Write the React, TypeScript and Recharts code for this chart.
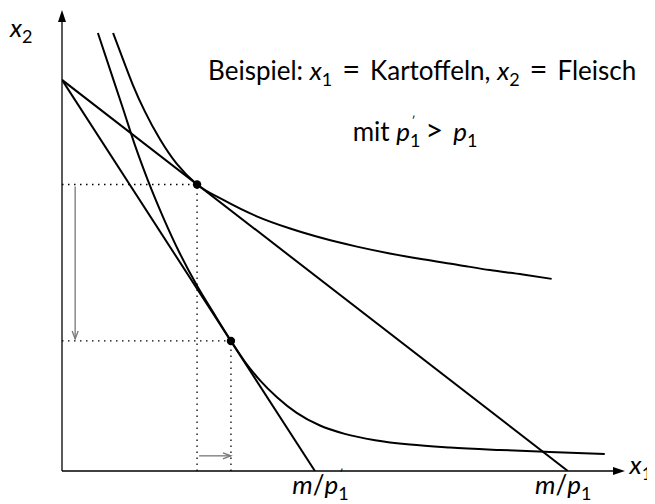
import React from "react";
import { ComposedChart, Line, XAxis, YAxis, ReferenceLine, ReferenceDot } from "recharts";

// Budgetgeraden (Achsenabschnitte m/p2 = 8, m/p1 = 10, m/p1' = 5)
const budgetOld = [
    { x: 0, y: 8 },
    { x: 10, y: 0 },
];
const budgetNew = [
    { x: 0, y: 8 },
    { x: 5, y: 0 },
];

// Indifferenzkurven, Punkte
const curveHigh = [
    { x: 1.01, y: 8.96 },
    { x: 1.21, y: 8.41 },
    { x: 1.4, y: 7.9 },
    { x: 1.64, y: 7.35 },
    { x: 1.94, y: 6.78 },
    { x: 2.27, y: 6.28 },
    { x: 2.67, y: 5.86 },
    { x: 3.18, y: 5.55 },
    { x: 3.85, y: 5.21 },
    { x: 4.51, y: 4.96 },
    { x: 5.16, y: 4.76 },
    { x: 5.83, y: 4.59 },
    { x: 6.48, y: 4.45 },
    { x: 7.13, y: 4.33 },
    { x: 7.81, y: 4.22 },
    { x: 8.46, y: 4.11 },
    { x: 9.11, y: 4.02 },
    { x: 9.68, y: 3.93 },
];
const curveLow = [
    { x: 0.71, y: 8.96 },
    { x: 0.95, y: 8.21 },
    { x: 1.21, y: 7.4 },
    { x: 1.44, y: 6.67 },
    { x: 1.7, y: 5.94 },
    { x: 2.0, y: 5.19 },
    { x: 2.33, y: 4.45 },
    { x: 2.67, y: 3.79 },
    { x: 2.98, y: 3.26 },
    { x: 3.34, y: 2.66 },
    { x: 3.62, y: 2.23 },
    { x: 3.91, y: 1.86 },
    { x: 4.25, y: 1.51 },
    { x: 4.64, y: 1.19 },
    { x: 5.1, y: 0.93 },
    { x: 5.59, y: 0.76 },
    { x: 6.19, y: 0.63 },
    { x: 6.88, y: 0.54 },
    { x: 7.67, y: 0.48 },
    { x: 8.66, y: 0.43 },
    { x: 9.64, y: 0.39 },
    { x: 10.73, y: 0.35 },
];

// Optimalpunkte vor / nach der Preiserhöhung
const optima = [
    { x: 2.67, y: 5.86 },
    { x: 3.34, y: 2.66 },
];

const X_MAX = 11.13;
const Y_MAX = 9.43;
const FONT = "Lato, 'Open Sans', sans-serif";
const FS = 26;
const SUB = 18;

const ArrowRight = ({ cx, cy }: any) => (
    <polygon points={`${cx},${cy} ${cx - 12},${cy - 4} ${cx - 12},${cy + 4}`} fill="#000" />
);
const ArrowUp = ({ cx, cy }: any) => (
    <polygon points={`${cx},${cy} ${cx - 4},${cy + 12} ${cx + 4},${cy + 12}`} fill="#000" />
);
const OpenDown = ({ cx, cy }: any) => (
    <polyline points={`${cx - 3},${cy - 8} ${cx},${cy} ${cx + 3},${cy - 8}`} fill="none" stroke="#777" strokeWidth={1.3} />
);
const OpenRight = ({ cx, cy }: any) => (
    <polyline points={`${cx - 8},${cy - 3} ${cx},${cy} ${cx - 8},${cy + 3}`} fill="none" stroke="#777" strokeWidth={1.3} />
);
const Dot = ({ cx, cy }: any) => <circle cx={cx} cy={cy} r={4.2} fill="#000" />;

const txt = (content: React.ReactNode, anchor: string = "start") => ({ cx, cy }: any) => (
    <text x={cx} y={cy} textAnchor={anchor} fontFamily={FONT} fontSize={FS} fill="#000">
        {content}
    </text>
);

const it = (s: string) => <tspan fontStyle="italic">{s}</tspan>;
const sub = (s: string) => <tspan fontSize={SUB} dy={6}>{s}</tspan>;
// Relationszeichen etwas größer, wie im Formelsatz
const rel = (s: string, dy = 0) => (
    <>
        <tspan dy={dy}>{"\u2009 "}</tspan>
        <tspan fontSize={31}>{s}</tspan>
        <tspan>{"\u2009 "}</tspan>
    </>
);
// p mit Strich über dem Index
const primeSub = () => (
    <>
        <tspan fontSize={SUB} dy={6}>1</tspan>
        <tspan fontSize={12} dx={-9} dy={-22}>′</tspan>
    </>
);

export default function App() {
    const dotted = { stroke: "#000", strokeWidth: 1.3, strokeDasharray: "1.5 4.5" };
    const line = { type: "linear" as const, stroke: "#000", strokeWidth: 2, dot: false, isAnimationActive: false };
    return (
        <ComposedChart width={647} height={496} margin={{ top: 2, right: 30, bottom: 33, left: 54 }}>
            <XAxis type="number" dataKey="x" domain={[0, X_MAX]} hide height={0} allowDataOverflow />
            <YAxis type="number" dataKey="y" domain={[0, Y_MAX]} hide width={0} allowDataOverflow />

            <ReferenceLine segment={[{ x: 0, y: 0 }, { x: X_MAX - 0.1, y: 0 }]} stroke="#000" strokeWidth={1.3} ifOverflow="visible" />
            <ReferenceLine segment={[{ x: 0, y: 0 }, { x: 0, y: Y_MAX - 0.1 }]} stroke="#000" strokeWidth={1.3} ifOverflow="visible" />
            <ReferenceDot x={X_MAX} y={0} shape={ArrowRight} ifOverflow="visible" />
            <ReferenceDot x={0} y={Y_MAX} shape={ArrowUp} ifOverflow="visible" />

            <ReferenceLine segment={[{ x: 0, y: optima[0].y }, { x: optima[0].x, y: optima[0].y }]} {...dotted} />
            <ReferenceLine segment={[{ x: optima[0].x, y: 0 }, { x: optima[0].x, y: optima[0].y }]} {...dotted} />
            <ReferenceLine segment={[{ x: 0, y: optima[1].y }, { x: optima[1].x, y: optima[1].y }]} {...dotted} />
            <ReferenceLine segment={[{ x: optima[1].x, y: 0 }, { x: optima[1].x, y: optima[1].y }]} {...dotted} />

            <ReferenceLine segment={[{ x: 0.26, y: optima[0].y - 0.04 }, { x: 0.26, y: optima[1].y + 0.04 }]} stroke="#777" strokeWidth={1.3} />
            <ReferenceDot x={0.26} y={optima[1].y + 0.04} shape={OpenDown} />
            <ReferenceLine segment={[{ x: optima[0].x + 0.04, y: 0.31 }, { x: optima[1].x, y: 0.31 }]} stroke="#777" strokeWidth={1.3} />
            <ReferenceDot x={optima[1].x} y={0.31} shape={OpenRight} />

            <Line data={budgetOld} dataKey="y" {...line} />
            <Line data={budgetNew} dataKey="y" {...line} />
            <Line data={curveHigh} dataKey="y" {...line} type="monotone" />
            <Line data={curveLow} dataKey="y" {...line} type="monotone" />

            {optima.map((p, i) => (
                <ReferenceDot key={i} x={p.x} y={p.y} shape={Dot} />
            ))}

            <ReferenceDot x={7.12} y={8.0} ifOverflow="visible"
                shape={txt(<>Beispiel: {it("x")}{sub("1")}{rel("=", -6)}Kartoffeln, {it("x")}{sub("2")}{rel("=", -6)}Fleisch</>, "middle")} />
            <ReferenceDot x={6.98} y={6.75} ifOverflow="visible"
                shape={txt(<>mit {it("p")}{primeSub()}{rel(">", 16)}{it("p")}{sub("1")}</>, "middle")} />
            <ReferenceDot x={-1.03} y={8.88} ifOverflow="visible"
                shape={txt(<>{it("x")}{sub("2")}</>)} />
            <ReferenceDot x={11.22} y={-0.06} ifOverflow="visible"
                shape={txt(<>{it("x")}{sub("1")}</>)} />
            <ReferenceDot x={4.55} y={-0.47} ifOverflow="visible"
                shape={txt(<>{it("m")}/{it("p")}{primeSub()}</>)} />
            <ReferenceDot x={9.35} y={-0.47} ifOverflow="visible"
                shape={txt(<>{it("m")}/{it("p")}{sub("1")}</>)} />
        </ComposedChart>
    );
}
